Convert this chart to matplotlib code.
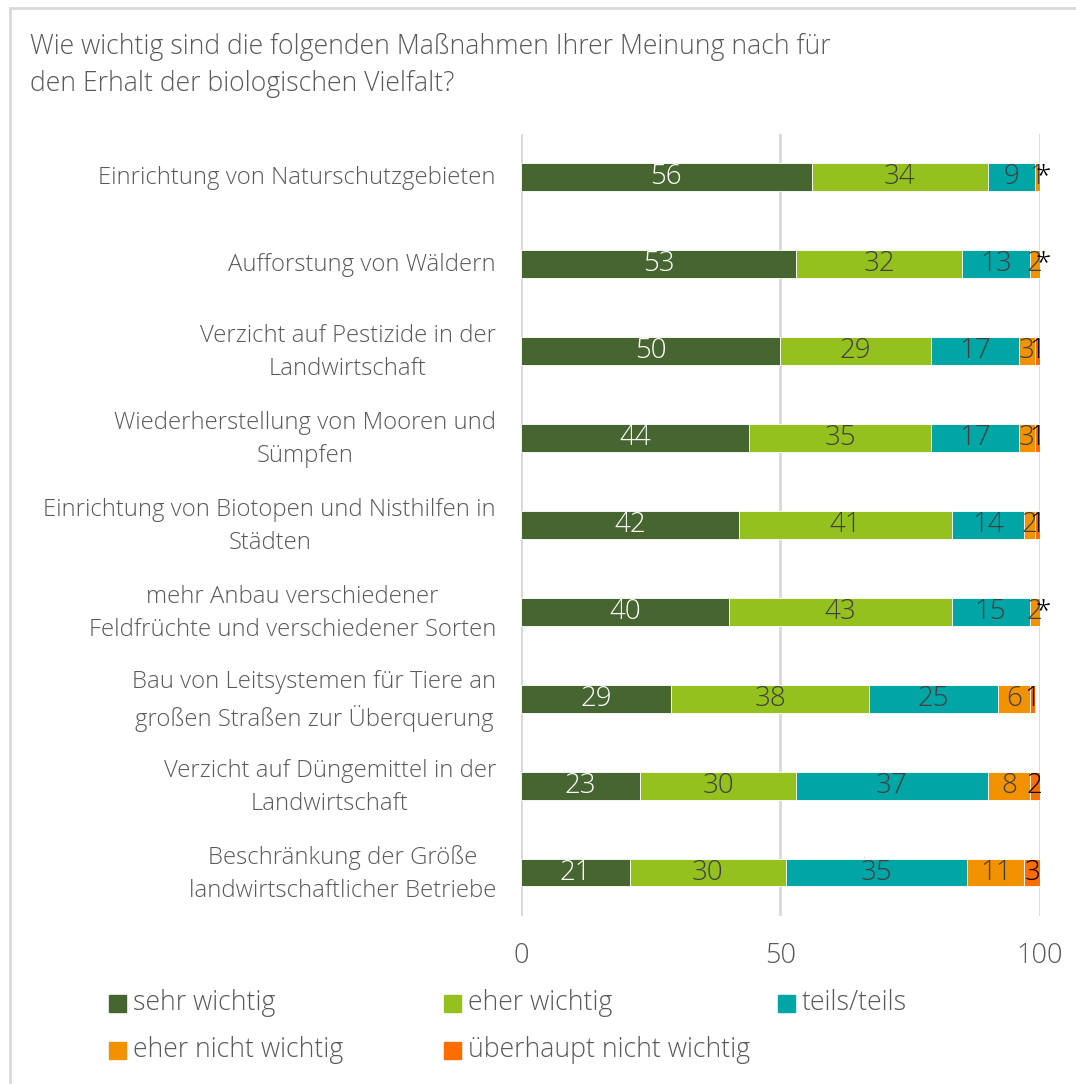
import matplotlib
matplotlib.use("Agg")
import matplotlib.pyplot as plt
from matplotlib.patches import Rectangle
import matplotlib.transforms as mtransforms
import numpy as np

plt.rcParams['font.family'] = ['Open Sans', 'DejaVu Sans']

title = "Wie wichtig sind die folgenden Maßnahmen Ihrer Meinung nach für\nden Erhalt der biologischen Vielfalt?"

categories = [
    "Einrichtung von Naturschutzgebieten",
    "Aufforstung von Wäldern",
    "Verzicht auf Pestizide in der\nLandwirtschaft",
    "Wiederherstellung von Mooren und\nSümpfen",
    "Einrichtung von Biotopen und Nisthilfen in\nStädten",
    "mehr Anbau verschiedener\nFeldfrüchte und verschiedener Sorten",
    "Bau von Leitsystemen für Tiere an\ngroßen Straßen zur Überquerung",
    "Verzicht auf Düngemittel in der\nLandwirtschaft",
    "Beschränkung der Größe\nlandwirtschaftlicher Betriebe",
]

series_names = ["sehr wichtig", "eher wichtig", "teils/teils",
                "eher nicht wichtig", "überhaupt nicht wichtig"]
sehr_wichtig = [56, 53, 50, 44, 42, 40, 29, 23, 21]
eher_wichtig = [34, 32, 29, 35, 41, 43, 38, 30, 30]
teils_teils = [9, 13, 17, 17, 14, 15, 25, 37, 35]
eher_nicht = [1, 2, 3, 3, 2, 2, 6, 8, 11]
ueberhaupt_nicht = [0, 0, 1, 1, 1, 0, 1, 2, 3]
ueberhaupt_labels = ["*", "*", "1", "1", "1", "*", "1", "2", "3"]

colors = ["#466530", "#95c11f", "#00a5a5", "#f39200", "#ff6d00"]
label_colors = ["white", "#404040", "#404040", "#404040", "black"]
text_gray = "#595959"

fig = plt.figure(figsize=(10.76, 10.84), dpi=100)
ax = fig.add_axes([0.4842, 0.155, 0.4823, 0.7215])

data = [sehr_wichtig, eher_wichtig, teils_teils, eher_nicht, ueberhaupt_nicht]
y = np.arange(len(categories))
left = np.zeros(len(categories))
for i, vals in enumerate(data):
    vals = np.array(vals, dtype=float)
    ax.barh(y, vals, left=left, height=0.32, color=colors[i],
            edgecolor="white", linewidth=0.6, zorder=3)
    for j, v in enumerate(vals):
        if i == 4:
            lab = ueberhaupt_labels[j]
            xpos = left[j] + v / 2 if v > 0 else left[j] + 0.6
        else:
            lab = str(int(v))
            xpos = left[j] + v / 2
        ax.text(xpos, y[j], lab, ha="center", va="center", fontsize=20,
                color=label_colors[i], fontweight="light", zorder=4)
    left += vals

ax.set_xlim(0, 100)
ax.set_ylim(len(categories) - 0.5, -0.5)
ax.set_xticks([0, 50, 100])
ax.set_xticklabels(["0", "50", "100"])
ax.tick_params(axis="x", length=0, pad=19, labelsize=19.5, labelcolor=text_gray)
ax.set_yticks(y)
ax.set_yticklabels(categories)
ax.tick_params(axis="y", length=0, pad=18, labelsize=17.2, labelcolor=text_gray)
for lab in ax.get_yticklabels():
    lab.set_multialignment("center")
    lab.set_fontweight("light")
    lab.set_linespacing(1.5)
    shift = 6 if "\n" in lab.get_text() else 2
    lab.set_transform(lab.get_transform() +
                      mtransforms.ScaledTranslation(0, shift / 100, fig.dpi_scale_trans))
for lab in ax.get_xticklabels():
    lab.set_fontweight("light")
for s in ax.spines.values():
    s.set_visible(False)
ax.grid(axis="x", color="#d9d9d9", linewidth=2, zorder=0)
ax.axvline(0, color="#d9d9d9", linewidth=2, zorder=1)

# frame and title
fig.add_artist(Rectangle((10 / 1076, -0.1), 1.2, 1.1 - 7.5 / 1084,
                         transform=fig.transFigure, fill=False,
                         edgecolor="#d9d9d9", linewidth=2))
fig.text(30 / 1076, 1 - 33 / 1084, title, ha="left", va="top", fontsize=19.2,
         color=text_gray, fontweight="light", linespacing=1.42)

# legend
leg_pos = [(109, 1003), (444, 1003), (778, 1003), (109, 1050), (444, 1050)]
for (px, py), name, c in zip(leg_pos, series_names, colors):
    fig.add_artist(Rectangle((px / 1076, 1 - (py + 8.5) / 1084), 17 / 1076, 17 / 1084,
                             transform=fig.transFigure, color=c))
    fig.text((px + 24) / 1076, 1 - py / 1084, name, ha="left", va="center",
             fontsize=19.2, color=text_gray, fontweight="light")

fig.savefig("out.png", dpi=100)
